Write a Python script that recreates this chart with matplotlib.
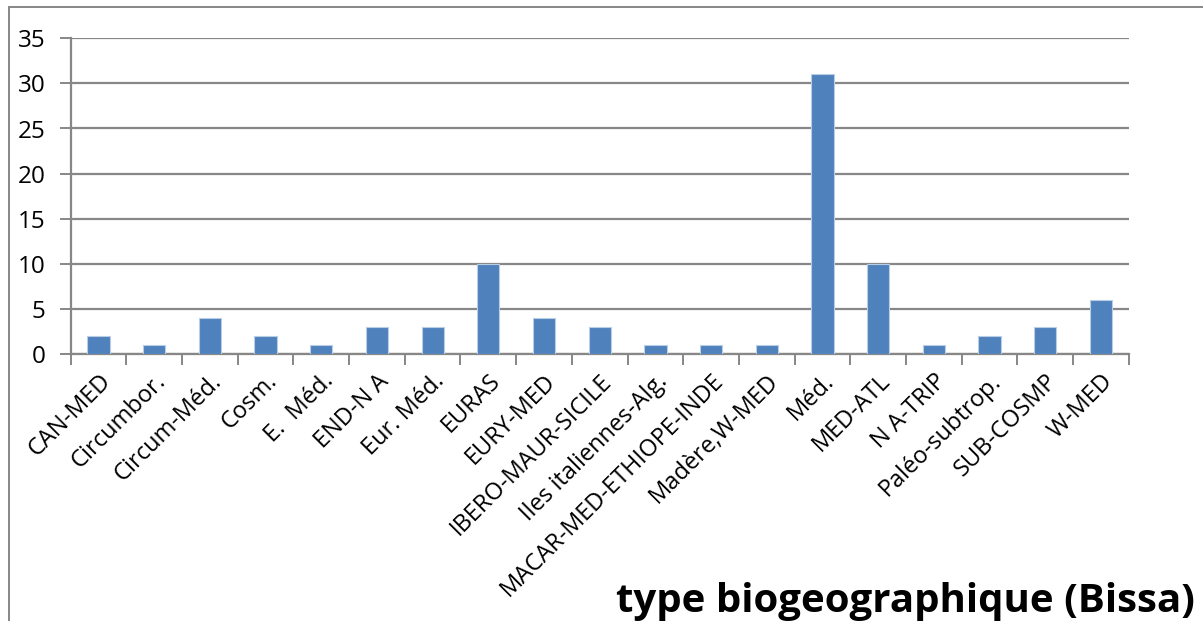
import matplotlib
matplotlib.use("Agg")
import matplotlib.pyplot as plt
from matplotlib.patches import Rectangle

categories = ["CAN-MED", "Circumbor.", "Circum-Méd.", "Cosm.", "E.  Méd.", "END-N A",
              "Eur. Méd.", "EURAS", "EURY-MED", "IBERO-MAUR-SICILE",
              "Iles italiennes-Alg.", "MACAR-MED-ETHIOPE-INDE", "Madère,W-MED",
              "Méd.", "MED-ATL", "N A-TRIP", "Paléo-subtrop.", "SUB-COSMP", "W-MED"]
values = [2, 1, 4, 2, 1, 3, 3, 10, 4, 3, 1, 1, 1, 31, 10, 1, 2, 3, 6]
yticks = [0, 5, 10, 15, 20, 25, 30, 35]
title = "type biogeographique (Bissa)"

plt.rcParams['font.family'] = ['Open Sans', 'DejaVu Sans']

W, H = 1203, 621
fig = plt.figure(figsize=(W / 100, H / 100), dpi=100)
ax = fig.add_axes([70.7 / W, 1 - 354 / H, (1128.7 - 70.7) / W, (354 - 38.3) / H])

x = range(len(categories))
ax.bar(x, values, width=0.4, color="#4F81BD", edgecolor="#B9CDE5", linewidth=0.8, zorder=3)
ax.set_xlim(-0.5, len(categories) - 0.5)
ax.set_ylim(0, 35)
ax.set_yticks(yticks)
ax.set_yticklabels([str(v) for v in yticks], fontsize=17.5)
ax.yaxis.grid(True, color="#878787", linewidth=1.6, zorder=0)
ax.set_axisbelow(True)

ax.set_xticks([i - 0.5 for i in range(len(categories) + 1)], minor=False)
ax.set_xticklabels([])
ax.set_xticks(list(x), minor=True)
ax.set_xticklabels(categories, minor=True, rotation=45, ha="right",
                   rotation_mode="anchor", fontsize=17)
ax.tick_params(axis="x", which="minor", length=0, pad=11)
ax.tick_params(axis="x", which="major", length=8, width=1.4, color="#878787", direction="out")
ax.tick_params(axis="y", length=8, width=1.4, color="#878787", direction="out", pad=10)

for s in ["top", "right"]:
    ax.spines[s].set_visible(False)
for s in ["left", "bottom"]:
    ax.spines[s].set_color("#878787")
    ax.spines[s].set_linewidth(1.6)

fig.patches.append(Rectangle((8.5 / W, -0.01), 1.1, 1 - 7 / H + 0.01, transform=fig.transFigure,
                             fill=False, edgecolor="#878787", linewidth=1.4))

t = fig.text(1195 / W, 1 - 612 / H, title, ha="right", va="baseline",
             fontsize=28, fontweight="bold")

r = fig.canvas.get_renderer()
w = t.get_window_extent(r).width
t.set_fontsize(28 * 578 / w)

fig.savefig("out.png", dpi=100)
